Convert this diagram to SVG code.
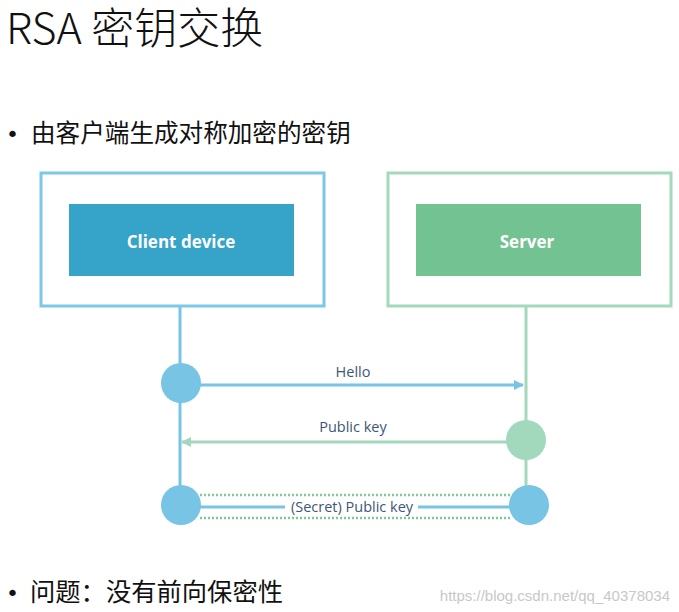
<svg xmlns="http://www.w3.org/2000/svg" width="679" height="612" viewBox="0 0 679 612">
<defs>
<style>
.cjk{font-family:"Noto Sans CJK SC","Noto Sans",sans-serif;fill:#111}
.title{font-size:43px;font-weight:300}
.dot{font-family:"DejaVu Sans",sans-serif;font-size:22px;fill:#111}
.nodeT{font-family:"Open Sans","Noto Sans",sans-serif;font-weight:700;font-size:17px;fill:#fff;text-anchor:middle}
.lbl{font-family:"Open Sans","Noto Sans",sans-serif;font-size:14.5px;fill:#3e5676;text-anchor:middle}
.blue{stroke:#78c4e4}
.green{stroke:#a2d8bc}
</style>
<marker id="ab" markerWidth="10" markerHeight="10" refX="9" refY="5" orient="auto" markerUnits="userSpaceOnUse">
<path d="M0,0 L10,5 L0,10 Z" fill="#78c4e4"/>
</marker>
<marker id="ag" markerWidth="10" markerHeight="10" refX="9" refY="5" orient="auto" markerUnits="userSpaceOnUse">
<path d="M0,0 L10,5 L0,10 Z" fill="#a2d8bc"/>
</marker>
</defs>
<rect width="679" height="612" fill="#fff"/>
<text class="cjk title" x="6" y="44">RSA 密钥交换</text>
<text class="dot" x="6" y="142">•</text>
<text class="cjk" x="31" y="142" font-size="24.6">由客户端生成对称加密的密钥</text>
<text class="dot" x="6" y="601">•</text>
<text class="cjk" x="30" y="601" font-size="25.3">问题：没有前向保密性</text>
<text x="670" y="601" text-anchor="end" font-family="'Liberation Sans',sans-serif" font-size="15" fill="#c8c8c8">https://blog.csdn.net/qq_40378034</text>

<g id="connectors" fill="none" stroke-width="3">
<line class="blue" x1="180" y1="306" x2="180" y2="505"/>
<line class="green" x1="526" y1="306" x2="526" y2="505"/>
<line class="blue" x1="200" y1="385" x2="523" y2="385" marker-end="url(#ab)"/>
<line class="green" x1="508" y1="442" x2="182" y2="442" marker-end="url(#ag)"/>
<line x1="200" y1="495" x2="510" y2="495" stroke="#7cc99a" stroke-dasharray="2 2" stroke-width="2.5"/>
<line x1="200" y1="518" x2="510" y2="518" stroke="#7cc99a" stroke-dasharray="2 2" stroke-width="2.5"/>
<line class="blue" x1="200" y1="507" x2="285" y2="507"/>
<line class="blue" x1="418" y1="507" x2="510" y2="507"/>
</g>

<g id="client">
<rect x="41" y="173" width="283" height="133" fill="#fff" stroke="#7cc8e8" stroke-width="3"/>
<rect x="69" y="204" width="225" height="72" fill="#36a3c8"/>
<text class="nodeT" x="181" y="248">Client device</text>
</g>
<g id="server">
<rect x="388" y="173" width="283" height="133" fill="#fff" stroke="#a3d9bd" stroke-width="3"/>
<rect x="416" y="204" width="225" height="72" fill="#72c391"/>
<text class="nodeT" x="527" y="248">Server</text>
</g>

<g id="c1"><circle cx="181" cy="383" r="20" fill="#78c4e4"/></g>
<g id="s1"><circle cx="526" cy="440" r="20" fill="#a2d8bc"/></g>
<g id="c2"><circle cx="181" cy="505" r="20" fill="#78c4e4"/></g>
<g id="s2"><circle cx="529" cy="505" r="20" fill="#78c4e4"/></g>

<g id="labels">
<text class="lbl" x="353" y="377">Hello</text>
<text class="lbl" x="353" y="432">Public key</text>
<text class="lbl" x="352" y="512">(Secret) Public key</text>
</g>
</svg>
